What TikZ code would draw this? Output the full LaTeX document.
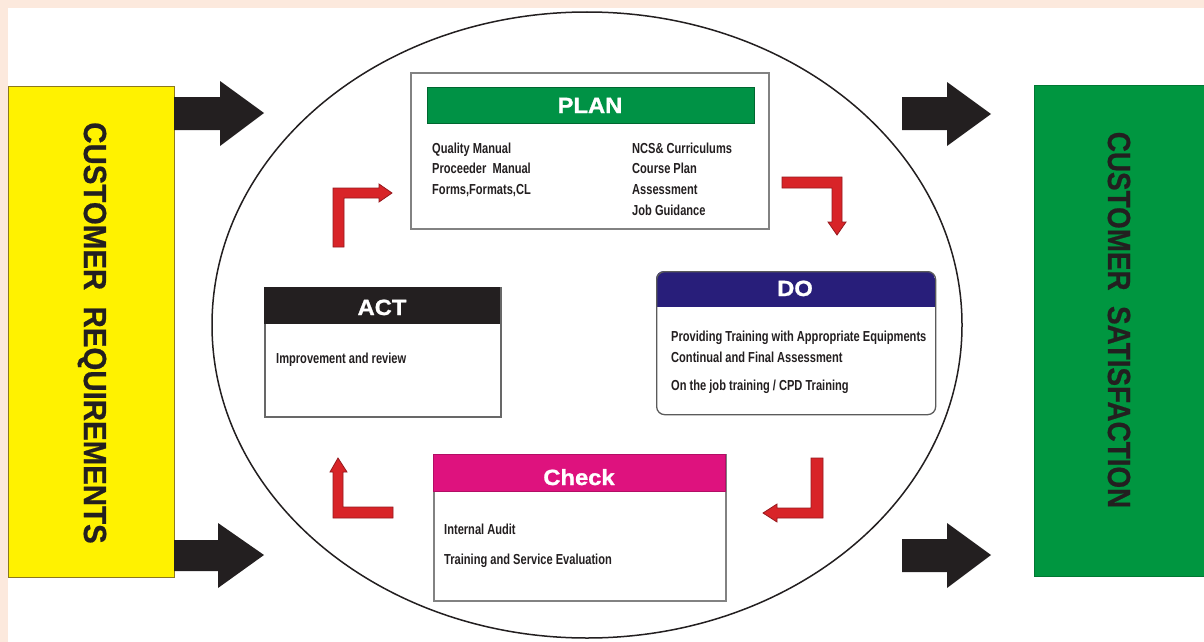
\documentclass[tikz,border=0pt]{standalone}
\usepackage{fontspec}
\setmainfont{Liberation Sans}
\newfontfamily\narrowf[FakeStretch=0.765]{Liberation Sans}
\newfontfamily\widef[FakeStretch=1.08,FakeBold=1.2]{Liberation Sans}
\newfontfamily\reqf[FakeStretch=0.92,FakeBold=0.6]{Liberation Sans}
\newfontfamily\satf[FakeStretch=0.87,FakeBold=0.6]{Liberation Sans}
\usetikzlibrary{shapes.geometric}
\definecolor{peach}{RGB}{252,233,221}
\definecolor{reqyellow}{RGB}{255,242,0}
\definecolor{reqedge}{RGB}{140,120,30}
\definecolor{satgreen}{RGB}{0,150,64}
\definecolor{plangreen}{RGB}{0,146,69}
\definecolor{donavy}{RGB}{40,30,122}
\definecolor{checkpink}{RGB}{222,18,126}
\definecolor{inkblack}{RGB}{35,31,32}
\definecolor{arrowred}{RGB}{216,36,40}
\definecolor{arrowedge}{RGB}{150,25,30}
\definecolor{boxgray}{RGB}{130,130,130}
\begin{document}
\begin{tikzpicture}[x=1pt,y=-1pt,
  sidebox/.style={anchor=north west,inner sep=0pt,line width=1pt},
  sidetext/.style={rotate=-90,inner sep=0pt,text=inkblack},
  pbox/.style={anchor=north west,inner sep=0pt,draw=boxgray,line width=1.5pt,fill=white},
  hbox/.style={anchor=north west,inner sep=0pt},
  htext/.style={anchor=base,inner sep=0pt,text=white,
    font=\widef\bfseries\fontsize{22}{24}\selectfont},
  item/.style={anchor=base west,inner sep=0pt,text=inkblack,
    font=\narrowf\bfseries\fontsize{14.5}{16}\selectfont},
  bigarrow/.style={fill=inkblack},
  redarrow/.style={fill=arrowred,draw=arrowedge,line width=0.8pt,line join=miter}
]
\useasboundingbox (0,0) rectangle (1204,642);
\fill[peach] (0,0) rectangle (1204,642);
\fill[white] (8,8) rectangle (1204,642);

% side boxes
\node[sidebox,fill=reqyellow,draw=reqedge,minimum width=166pt,minimum height=491pt] (req) at (8,86) {};
\node[sidetext,font=\reqf\bfseries\fontsize{32}{36}\selectfont] (reqt) at (92,333) {CUSTOMER\ \ REQUIREMENTS};
\node[sidebox,fill=satgreen,draw=satgreen!80!black,minimum width=172pt,minimum height=491pt] (sat) at (1034,85) {};
\node[sidetext,font=\satf\bfseries\fontsize{32}{36}\selectfont] (satt) at (1119,320) {CUSTOMER\ \ SATISFACTION};

% black arrows
\fill[bigarrow] (174,97) -- (220,97) -- (220,81) -- (264,113) -- (220,146) -- (220,130) -- (174,130) -- cycle;
\fill[bigarrow] (174,540) -- (218,540) -- (218,523) -- (264,555) -- (218,588) -- (218,571) -- (174,571) -- cycle;
\fill[bigarrow] (902,97) -- (947,97) -- (947,82) -- (991,114) -- (947,146) -- (947,130) -- (902,130) -- cycle;
\fill[bigarrow] (902,539) -- (947,539) -- (947,523) -- (991,555) -- (947,588) -- (947,572) -- (902,572) -- cycle;

% cycle ellipse
\node[draw=inkblack,line width=1.5pt,ellipse,minimum width=750pt,minimum height=626pt,inner sep=0pt] (cyc) at (587,325) {};

% PLAN
\node[pbox,minimum width=358pt,minimum height=156pt] (plan) at (410,72) {};
\node[hbox,fill=plangreen,draw=plangreen!70!black,line width=0.8pt,minimum width=327pt,minimum height=36pt] (planh) at (427,87) {};
\node[htext] (plant) at (590,113) {PLAN};
\node[item] (p1) at (432,153) {Quality Manual};
\node[item] (p2) at (432,173.5) {Proceeder\ \ Manual};
\node[item] (p3) at (432,194) {Forms,Formats,CL};
\node[item] (p4) at (632,153) {NCS\& Curriculums};
\node[item] (p5) at (632,173.5) {Course Plan};
\node[item] (p6) at (632,194) {Assessment};
\node[item] (p7) at (632,215) {Job Guidance};

% DO
\begin{scope}
\clip[rounded corners=8pt] (656,271) rectangle (935,414);
\fill[white] (656,271) rectangle (935,414);
\fill[donavy] (656,271) rectangle (935,307);
\end{scope}
\node[draw=boxgray!70!black,line width=1.3pt,rounded corners=8pt,anchor=north west,inner sep=0pt,minimum width=279pt,minimum height=143pt] (do) at (656,271) {};
\node[htext] (dot) at (795,296) {DO};
\node[item] (d1) at (671,341) {Providing Training with Appropriate Equipments};
\node[item] (d2) at (671,362) {Continual and Final Assessment};
\node[item] (d3) at (671,390) {On the job training / CPD Training};

% ACT
\node[pbox,draw=boxgray!80!black,minimum width=236pt,minimum height=129pt] (act) at (264,287) {};
\node[hbox,fill=inkblack,minimum width=236pt,minimum height=37pt] (acth) at (264,287) {};
\node[htext] (actt) at (382,315) {ACT};
\node[item] (a1) at (276,363) {Improvement and review};

% Check
\node[pbox,minimum width=292pt,minimum height=146pt] (chk) at (433,454) {};
\node[hbox,fill=checkpink,draw=checkpink!80!black,line width=0.8pt,minimum width=292pt,minimum height=37pt] (chkh) at (433,454) {};
\node[htext] (chkt) at (579,485) {Check};
\node[item] (c1) at (444,534) {Internal Audit};
\node[item] (c2) at (444,564) {Training and Service Evaluation};

% red L arrows
\draw[redarrow] (333,247) -- (333,188) -- (379,188) -- (379,184) -- (392,193) -- (379,202) -- (379,198) -- (344,198) -- (344,247) -- cycle;
\draw[redarrow] (782,177) -- (842,177) -- (842,222) -- (846,222) -- (837,235) -- (828,222) -- (832,222) -- (832,188) -- (782,188) -- cycle;
\draw[redarrow] (823,458) -- (823,518) -- (777,518) -- (777,522) -- (763,513) -- (777,504) -- (777,508) -- (811,508) -- (811,458) -- cycle;
\draw[redarrow] (393,518) -- (333,518) -- (333,472) -- (330,472) -- (338,458) -- (347,472) -- (343,472) -- (343,507) -- (393,507) -- cycle;
\end{tikzpicture}
\end{document}
